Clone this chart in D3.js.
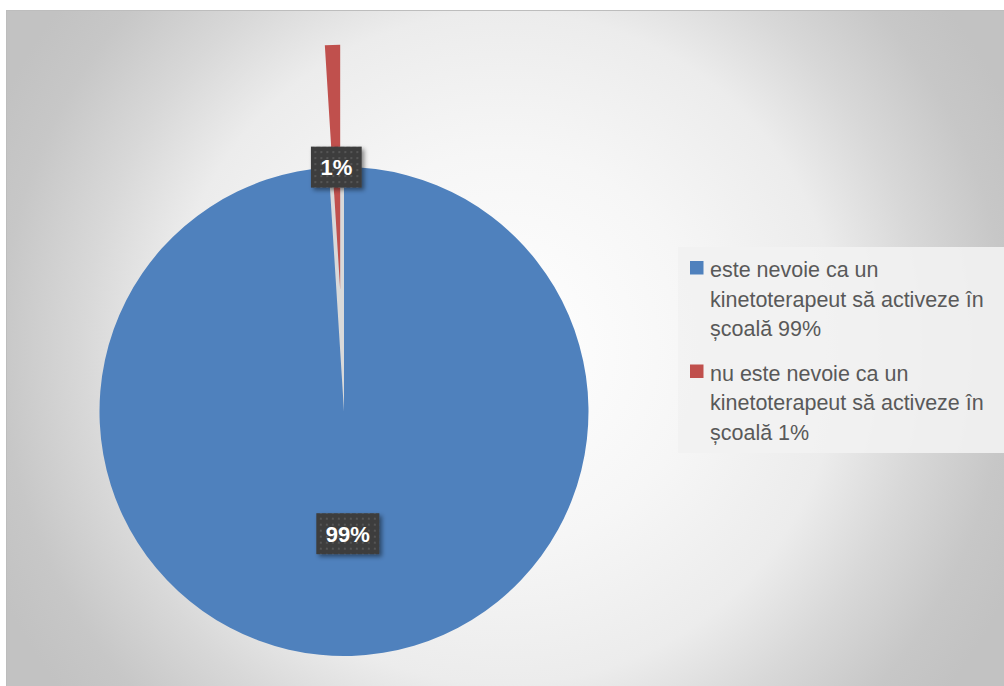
<!DOCTYPE html>
<html>
<head>
<meta charset="utf-8">
<script src="https://cdn.jsdelivr.net/npm/d3@7/dist/d3.min.js"></script>
<style>
  html, body { margin: 0; padding: 0; background: #ffffff; }
  svg { display: block; }
</style>
</head>
<body>
<svg id="chart" width="1004" height="686"></svg>
<script>
// Survey answers: is a physiotherapist needed in school?
const categories = [
  "este nevoie ca un kinetoterapeut să activeze în școală 99%",
  "nu este nevoie ca un kinetoterapeut să activeze în școală 1%"
];
const values = [99, 1];
const colors = ["#4f81bd", "#c0504d"];
const explode = [0, 0.5];   // fraction of the radius each slice is pulled out

const svg = d3.select("#chart");
const W = 1004, H = 686;
const defs = svg.append("defs");

// soft radial background of the chart area
const bg = defs.append("radialGradient")
  .attr("id", "bgGrad")
  .attr("gradientUnits", "userSpaceOnUse")
  .attr("cx", 504).attr("cy", 348).attr("r", 560);
[[0, "#ffffff"], [0.35, "#f6f6f6"], [0.6, "#ececec"], [0.75, "#d8d8d8"],
 [0.9, "#c7c7c7"], [1, "#c2c2c2"]].forEach(([o, c]) =>
  bg.append("stop").attr("offset", o).attr("stop-color", c));

// dotted texture for the data-label boxes
const pat = defs.append("pattern")
  .attr("id", "dots").attr("patternUnits", "userSpaceOnUse")
  .attr("width", 6).attr("height", 6);
pat.append("rect").attr("width", 6).attr("height", 6).attr("fill", "#3d3d3d");
pat.append("rect").attr("x", 2).attr("y", 2).attr("width", 2).attr("height", 2)
  .attr("fill", "#555555");

const shadow = defs.append("filter").attr("id", "lblShadow")
  .attr("x", "-30%").attr("y", "-30%").attr("width", "160%").attr("height", "160%");
shadow.append("feDropShadow").attr("dx", 2.5).attr("dy", 2.5)
  .attr("stdDeviation", 2).attr("flood-color", "#000").attr("flood-opacity", 0.45);

// chart area
svg.append("rect")
  .attr("x", 6.5).attr("y", 10.5).attr("width", W + 20).attr("height", H + 20)
  .attr("fill", "url(#bgGrad)")
  .attr("stroke", "#bdbdbd").attr("stroke-width", 1);

// pie
const cx = 344, cy = 411.5, R = 244.5;
const pie = d3.pie().sort(null).value(d => d)(values);
const arc = d3.arc().innerRadius(0).outerRadius(R);

const g = svg.append("g").attr("transform", `translate(${cx},${cy})`);

// shaded plate under the pie, visible through the gap of the pulled-out slice
g.append("circle").attr("r", R - 1).attr("fill", "#d9d9d9");

function offsetOf(d, i) {
  const mid = (d.startAngle + d.endAngle) / 2;
  const off = explode[i] * R;
  return [Math.sin(mid) * off, -Math.cos(mid) * off];
}

g.selectAll("path.slice").data(pie).join("path")
  .attr("class", "slice")
  .attr("d", arc)
  .attr("fill", (d, i) => colors[i])
  .attr("transform", (d, i) => `translate(${offsetOf(d, i)})`);

// data labels
const total = d3.sum(values);
const fmt = d3.format(".0%");
const labels = g.selectAll("g.lbl").data(pie).join("g")
  .attr("class", "lbl")
  .attr("transform", (d, i) => {
    const c = arc.centroid(d), o = offsetOf(d, i);
    return `translate(${c[0] + o[0]},${c[1] + o[1]})`;
  });

labels.each(function (d) {
  const sel = d3.select(this);
  const t = sel.append("text")
    .attr("text-anchor", "middle")
    .attr("y", 8)
    .attr("fill", "#ffffff")
    .attr("font-family", "'Liberation Sans', Arial, sans-serif")
    .attr("font-weight", "bold")
    .attr("font-size", 22)
    .text(fmt(d.data / total));
  const w = t.node().getComputedTextLength() + 19;
  const h = 41;
  sel.insert("rect", "text")
    .attr("x", -w / 2).attr("y", -h / 2)
    .attr("width", w).attr("height", h)
    .attr("fill", "url(#dots)")
    .attr("filter", "url(#lblShadow)");
});

// legend
const legend = svg.append("g").attr("transform", "translate(678,247)");
legend.append("rect")
  .attr("width", 330).attr("height", 206)
  .attr("fill", "#f2f2f2").attr("fill-opacity", 0.9);

const lineH = 29.5, maxW = 292;
let y0 = 30;
categories.forEach((cat, i) => {
  const item = legend.append("g").attr("transform", `translate(0,${y0})`);
  item.append("rect")
    .attr("x", 12).attr("y", -16).attr("width", 13.5).attr("height", 13.5)
    .attr("fill", colors[i]);
  const text = item.append("text")
    .attr("x", 32).attr("y", 0)
    .attr("fill", "#595959")
    .attr("font-family", "'Liberation Sans', Arial, sans-serif")
    .attr("font-size", 21.5);
  // wrap words into lines that fit the legend width
  const words = cat.split(" ");
  let line = [], lines = 0;
  let tspan = text.append("tspan").attr("x", 32).attr("dy", 0);
  words.forEach(w => {
    line.push(w);
    tspan.text(line.join(" "));
    if (tspan.node().getComputedTextLength() > maxW && line.length > 1) {
      line.pop();
      tspan.text(line.join(" "));
      line = [w];
      lines++;
      tspan = text.append("tspan").attr("x", 32).attr("dy", lineH).text(w);
    }
  });
  y0 += (lines + 1) * lineH + 15;
});
</script>
</body>
</html>
